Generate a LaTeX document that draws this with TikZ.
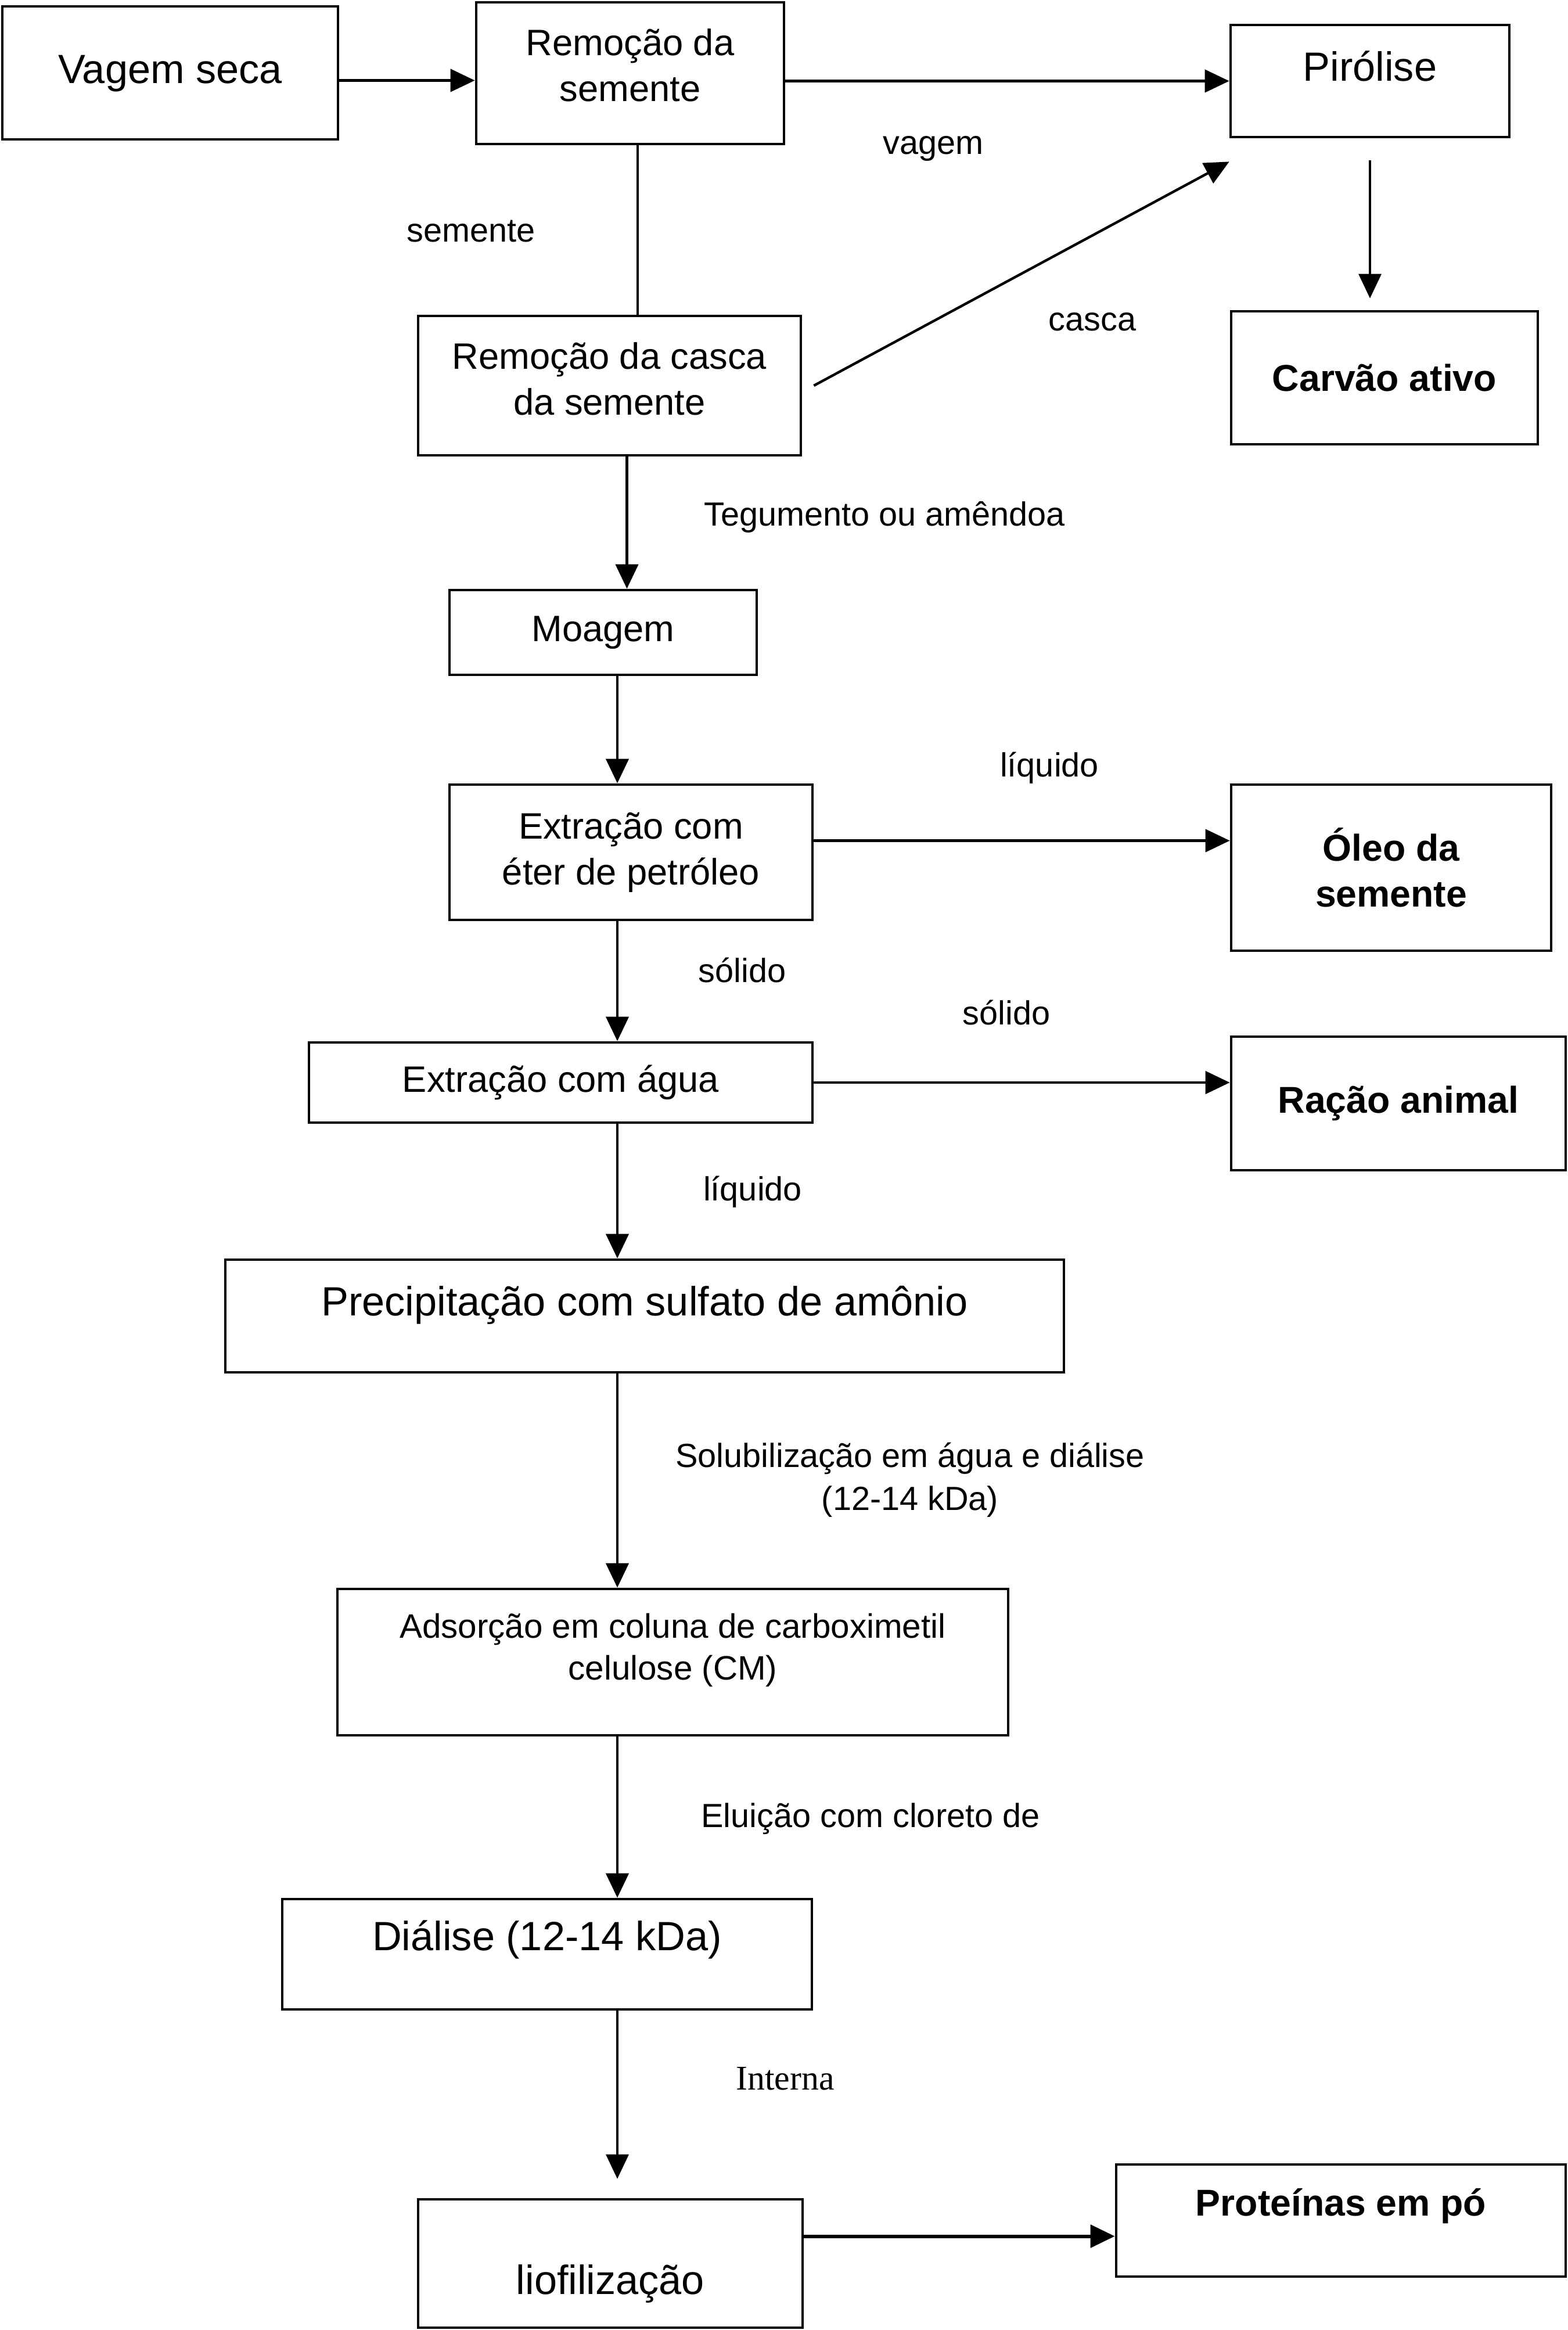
\documentclass[tikz,border=0pt]{standalone}
\usepackage{fontspec}
\setmainfont{Liberation Sans}
\newfontfamily\timesfont{Liberation Serif}
\usetikzlibrary{arrows.meta,positioning,calc}
\tikzset{
  box/.style={draw=black, line width=1.35pt, align=center, inner sep=2pt,
              font=\fontsize{18}{22.5}\selectfont},
  bigbox/.style={box, font=\fontsize{20}{24}\selectfont},
  endbox/.style={box, font=\fontsize{18.3}{22.5}\selectfont\bfseries},
  wh/.style 2 args={minimum width=#1, minimum height=#2},
  nudge/.style={text depth=#1},
  sink/.style={text height=#1},
  lbl/.style={font=\fontsize{16.4}{21}\selectfont, align=center, inner sep=0pt},
  arr/.style={-{Triangle[length=4.2mm,width=3.9mm]}, line width=1.25pt},
  arrthin/.style={arr, line width=0.95pt},
  arrbold/.style={arr, line width=1.7pt},
  link/.style={line width=1.25pt},
}

\begin{document}
\begin{tikzpicture}
  \useasboundingbox (0,0) rectangle (27,-40.12);
  \coordinate (spine) at (10.63,0);
  % top row
  \node[bigbox, wh={5.78cm}{2.29cm}, nudge=0.12cm] (vagem) at (2.93,-1.255) {Vagem seca};
  \node[box, wh={5.30cm}{2.44cm}, nudge=0.28cm] (remsem) at (10.85,-1.26) {Remoção da\\semente};
  \node[bigbox, wh={4.80cm}{1.93cm}, nudge=0.52cm] (piro) at (23.59,-1.395) {Pirólise};
  \node[box, wh={6.59cm}{2.40cm}, nudge=0.24cm] (casca) at (10.495,-6.64) {Remoção da casca\\da semente};
  \node[endbox, wh={5.28cm}{2.29cm}] (carvao) at (23.84,-6.505) {Carvão ativo};
  % main column
  \node[box, wh={5.29cm}{1.46cm}] (moagem) at (10.385,-10.89) {Moagem};
  \node[box, wh={6.25cm}{2.33cm}] (eter) at (10.865,-14.675) {Extração com\\éter de petróleo};
  \node[endbox, wh={5.51cm}{2.86cm}] (oleo) at (23.955,-14.94) {Óleo da\\semente};
  \node[box, wh={8.67cm}{1.38cm}] (agua) at (9.655,-18.64) {Extração com água};
  \node[endbox, wh={5.76cm}{2.30cm}] (racao) at (24.08,-19.00) {Ração animal};
  \node[bigbox, wh={14.44cm}{1.94cm}, nudge=0.53cm] (precip) at (11.10,-22.66) {Precipitação com sulfato de amônio};
  \node[box, font=\fontsize{16.6}{20.4}\selectfont, wh={11.55cm}{2.52cm}, nudge=0.54cm] (adsorc) at (11.585,-28.62) {Adsorção em coluna de carboximetil\\celulose (CM)};
  \node[bigbox, wh={9.12cm}{1.90cm}, nudge=0.65cm] (dialise) at (9.42,-33.65) {Diálise (12-14 kDa)};
  \node[bigbox, wh={6.62cm}{2.21cm}, sink=1.21cm] (liofil) at (10.51,-38.975) {liofilização};
  \node[endbox, wh={7.74cm}{1.93cm}, nudge=0.635cm] (prot) at (23.09,-38.235) {Proteínas em pó};

  % labels
  \node[lbl] (lvagem) at (16.07,-2.56) {vagem};
  \node[lbl] (lsem) at (8.11,-3.98) {semente};
  \node[lbl] (lcasca) at (18.81,-5.54) {casca};
  \node[lbl] (lteg) at (15.23,-8.90) {Tegumento ou amêndoa};
  \node[lbl] (lliq) at (18.07,-13.22) {líquido};
  \node[lbl] (lsol) at (12.78,-16.71) {sólido};
  \node[lbl] (lsolb) at (17.33,-17.44) {sólido};
  \node[lbl] (lliqb) at (12.96,-20.52) {líquido};
  \node[lbl] (lsolub) at (15.67,-25.48) {Solubilização em água e diálise\\(12-14 kDa)};
  \node[lbl] (lelu) at (14.99,-31.32) {Eluição com cloreto de};
  \node[lbl, font=\timesfont\fontsize{17}{20}\selectfont] (lint) at (13.52,-35.79) {Interna};

  % connectors
  \draw[arr] ([yshift=-1.3mm]vagem.east) -- ([yshift=-1.3mm]vagem.east -| remsem.west);
  \draw[arr] (piro.west -| remsem.east) -- (piro.west);
  \draw[link] ([xshift=1.3mm]remsem.south) -- ([xshift=1.3mm]remsem.south |- casca.north);
  \draw[arr] ([xshift=2mm]casca.east) -- ([yshift=-4mm]piro.south west);
  \draw[arrthin] ([yshift=-3.8mm]piro.south) -- ([yshift=2mm]piro.south |- carvao.north);
  \draw[arr] ([xshift=3mm]casca.south) -- ([xshift=3mm]casca.south |- moagem.north);
  \draw[arr] (spine |- moagem.south) -- (spine |- eter.north);
  \draw[arr] ([yshift=2mm]eter.east) -- ([yshift=2mm]eter.east -| oleo.west);
  \draw[arr] (spine |- eter.south) -- (spine |- agua.north);
  \draw[arr] (agua.east) -- (agua.east -| racao.west);
  \draw[arr] (spine |- agua.south) -- (spine |- precip.north);
  \draw[arr] (spine |- precip.south) -- (spine |- adsorc.north);
  \draw[arr] (spine |- adsorc.south) -- (spine |- dialise.north);
  \draw[arrthin] (spine |- dialise.south) -- ([yshift=3.3mm]spine |- liofil.north);
  \draw[arrbold] ([yshift=4.7mm]liofil.east) -- ([yshift=4.7mm]liofil.east -| prot.west);
\end{tikzpicture}
\end{document}
